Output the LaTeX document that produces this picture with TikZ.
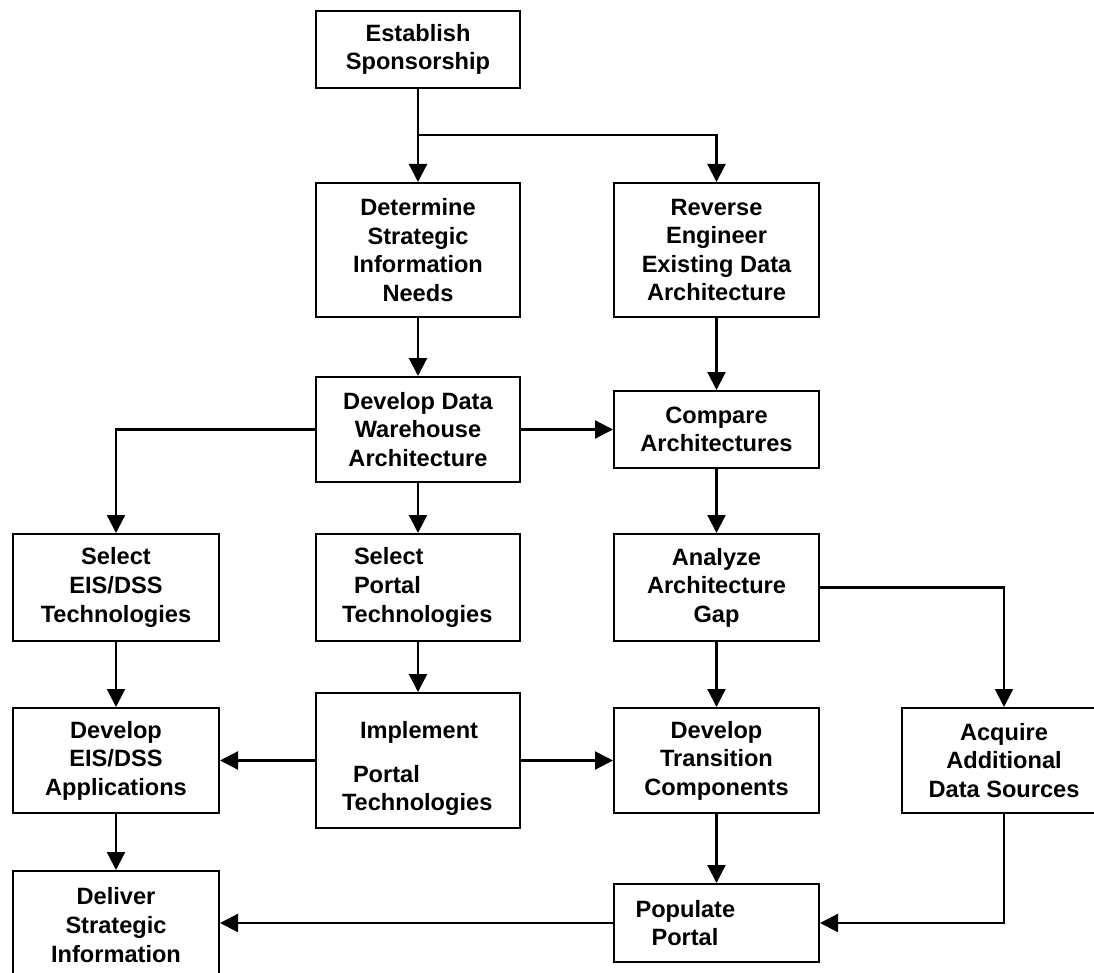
\documentclass[tikz,border=0pt]{standalone}
\usepackage{fontspec}
\setmainfont{Liberation Sans}
\usetikzlibrary{arrows.meta}
\begin{document}
\begin{tikzpicture}[x=1pt,y=-1pt,
  box/.style={draw,line width=2pt,inner sep=0pt,align=center,
    font=\fontsize{23.6}{28.6}\selectfont\bfseries},
  arr/.style={line width=2.2pt,-{Triangle[length=18pt,width=18pt]}}]
\useasboundingbox (0,0) rectangle (1094,973);
\clip (0,0) rectangle (1094,973);
% nodes
\node[box,minimum width=204pt,minimum height=77pt] (est) at (418,49.5) {Establish\\Sponsorship};
\node[box,minimum width=204pt,minimum height=134pt] (det) at (418,250) {Determine\\Strategic\\Information\\Needs};
\node[box,minimum width=205pt,minimum height=134pt] (rev) at (716.5,250) {Reverse\\Engineer\\Existing Data\\Architecture};
\node[box,minimum width=204pt,minimum height=105pt] (dw) at (418,429.5) {Develop Data\\Warehouse\\Architecture};
\node[box,minimum width=205pt,minimum height=77pt] (cmp) at (716.5,429.5) {Compare\\Architectures};
\node[box,minimum width=206pt,minimum height=107pt] (seis) at (116,587.5) {Select\\EIS/DSS\\Technologies};
\node[box,minimum width=204pt,minimum height=107pt,align=left,text width=152pt] (sport) at (418,587.5) {\hspace*{12pt}Select\\\hspace*{12pt}Portal\\Technologies};
\node[box,minimum width=205pt,minimum height=107pt] (gap) at (716.5,587.5) {Analyze\\Architecture\\Gap};
\node[box,minimum width=206pt,minimum height=105pt] (deis) at (116,760.5) {Develop\\EIS/DSS\\Applications};
\node[box,minimum width=204pt,minimum height=135pt,align=left,text width=152pt] (impl) at (418,760.5) {\rule{0pt}{33pt}\hspace*{18pt}Implement\\[15.7pt]\hspace*{11pt}Portal\\Technologies};
\node[box,minimum width=205pt,minimum height=105pt] (trans) at (716.5,760.5) {Develop\\Transition\\Components};
\node[box,minimum width=204pt,minimum height=105pt] (acq) at (1004,760.5) {Acquire\\Additional\\Data Sources};
\node[box,minimum width=206pt,minimum height=108pt] (del) at (116,925) {Deliver\\Strategic\\Information};
\node[box,minimum width=205pt,minimum height=78pt,align=left,text width=162pt] (pop) at (716.5,923) {Populate\\\hspace*{16pt}Portal};
% connectors
\coordinate (bj) at (418,135);
\draw[arr] (est.south) -- (det.north);
\draw[arr] (bj) -| (rev.north);
\draw[arr] (det.south) -- (dw.north);
\draw[arr] (rev.south) -- (cmp.north);
\draw[arr] (dw.east) -- (cmp.west);
\draw[arr] (dw.west) -| (seis.north);
\draw[arr] (dw.south) -- (sport.north);
\draw[arr] (cmp.south) -- (gap.north);
\draw[arr] (gap.east) -| (acq.north);
\draw[arr] (seis.south) -- (deis.north);
\draw[arr] (sport.south) -- (impl.north);
\draw[arr] (gap.south) -- (trans.north);
\draw[arr] (impl.west) -- (deis.east);
\draw[arr] (impl.east) -- (trans.west);
\draw[arr] (deis.south) -- (del.north);
\draw[arr] (trans.south) -- (pop.north);
\draw[arr] (acq.south) |- (pop.east);
\draw[arr] (pop.west) -- (pop.west -| del.east);
\end{tikzpicture}
\end{document}
